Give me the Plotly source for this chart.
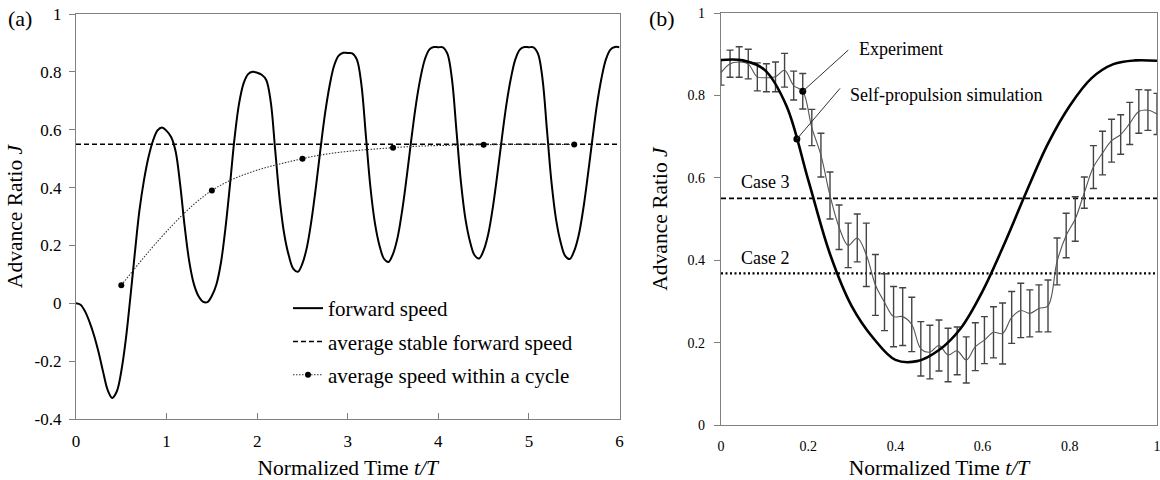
import plotly.graph_objects as go

# ---------------- Panel (a) data ----------------
fs_t = [0.00, 0.05, 0.10, 0.15, 0.20, 0.25, 0.30, 0.35, 0.40, 0.45,
        0.50, 0.55, 0.60, 0.65, 0.70, 0.75, 0.80, 0.85, 0.90, 0.95,
        1.00, 1.05, 1.10, 1.15, 1.20, 1.25, 1.30, 1.35, 1.40, 1.45,
        1.50, 1.55, 1.60, 1.65, 1.70, 1.75, 1.80, 1.85, 1.90, 1.95,
        2.00, 2.05, 2.10, 2.15, 2.20, 2.25, 2.30, 2.35, 2.40, 2.45,
        2.50, 2.55, 2.60, 2.65, 2.70, 2.75, 2.80, 2.85, 2.90, 2.95,
        3.00, 3.05, 3.10, 3.15, 3.20, 3.25, 3.30, 3.35, 3.40, 3.45,
        3.50, 3.55, 3.60, 3.65, 3.70, 3.75, 3.80, 3.85, 3.90, 3.95,
        4.00, 4.05, 4.10, 4.15, 4.20, 4.25, 4.30, 4.35, 4.40, 4.45,
        4.50, 4.55, 4.60, 4.65, 4.70, 4.75, 4.80, 4.85, 4.90, 4.95,
        5.00, 5.05, 5.10, 5.15, 5.20, 5.25, 5.30, 5.35, 5.40, 5.45,
        5.50, 5.55, 5.60, 5.65, 5.70, 5.75, 5.80, 5.85, 5.90, 5.95,
        6.00]
fs_J = [0.000, -0.005, -0.028, -0.065, -0.112, -0.170, -0.238, -0.300, -0.327, -0.305,
        -0.235, -0.125, 0.020, 0.175, 0.320, 0.425, 0.505, 0.562, 0.598, 0.608,
        0.596, 0.575, 0.525, 0.410, 0.265, 0.145, 0.068, 0.026, 0.006, 0.004,
        0.026, 0.065, 0.140, 0.260, 0.410, 0.570, 0.690, 0.760, 0.792, 0.800,
        0.797, 0.790, 0.772, 0.696, 0.526, 0.356, 0.237, 0.164, 0.119, 0.109,
        0.138, 0.195, 0.288, 0.406, 0.536, 0.657, 0.753, 0.822, 0.856, 0.866,
        0.865, 0.864, 0.843, 0.758, 0.580, 0.402, 0.277, 0.200, 0.154, 0.143,
        0.171, 0.227, 0.319, 0.435, 0.562, 0.681, 0.775, 0.842, 0.877, 0.886,
        0.885, 0.885, 0.863, 0.776, 0.597, 0.417, 0.290, 0.213, 0.166, 0.155,
        0.183, 0.238, 0.328, 0.442, 0.567, 0.684, 0.776, 0.843, 0.877, 0.886,
        0.885, 0.885, 0.863, 0.776, 0.596, 0.416, 0.289, 0.211, 0.164, 0.153,
        0.181, 0.236, 0.326, 0.441, 0.566, 0.684, 0.776, 0.843, 0.877, 0.886,
        0.885]

stable_t = [0, 6]
stable_J = [0.55, 0.55]

cycle_t = [0.5, 1.5, 2.5, 3.5, 4.5, 5.5]
cycle_J = [0.062, 0.390, 0.500, 0.538, 0.548, 0.549]

a_xticks = [0, 1, 2, 3, 4, 5, 6]
a_xtext = ["0", "1", "2", "3", "4", "5", "6"]
a_yticks = [-0.4, -0.2, 0, 0.2, 0.4, 0.6, 0.8, 1.0]
a_ytext = ["-0.4", "-0.2", "0", "0.2", "0.4", "0.6", "0.8", "1"]

# ---------------- Panel (b) data ----------------
sim_t = [0.00, 0.05, 0.10, 0.15, 0.20, 0.25, 0.30, 0.35, 0.40, 0.45,
         0.50, 0.55, 0.60, 0.65, 0.70, 0.75, 0.80, 0.85, 0.90, 0.95, 1.00]
sim_J = [0.886, 0.885, 0.862, 0.775, 0.595, 0.415, 0.288, 0.210, 0.158, 0.155,
         0.182, 0.235, 0.325, 0.440, 0.565, 0.683, 0.775, 0.842, 0.876, 0.885, 0.884]

exp_t = [0.0, 0.0208, 0.0417, 0.0625, 0.0833, 0.1042, 0.125, 0.1458, 0.1667, 0.1875,
         0.2083, 0.2292, 0.25, 0.2708, 0.2917, 0.3125, 0.3333, 0.3542, 0.375, 0.3958,
         0.4167, 0.4375, 0.4583, 0.4792, 0.5, 0.5208, 0.5417, 0.5625, 0.5833, 0.6042,
         0.625, 0.6458, 0.6667, 0.6875, 0.7083, 0.7292, 0.75, 0.7708, 0.7917, 0.8125,
         0.8333, 0.8542, 0.875, 0.8958, 0.9167, 0.9375, 0.9583, 0.9792, 1.0]
exp_J = [0.855, 0.877, 0.881, 0.876, 0.845, 0.843, 0.845, 0.861, 0.824, 0.810,
         0.722, 0.655, 0.557, 0.480, 0.436, 0.454, 0.413, 0.340, 0.298, 0.263,
         0.263, 0.244, 0.185, 0.177, 0.193, 0.170, 0.180, 0.158, 0.190, 0.206,
         0.225, 0.222, 0.261, 0.278, 0.271, 0.283, 0.289, 0.397, 0.460, 0.500,
         0.564, 0.626, 0.660, 0.690, 0.705, 0.732, 0.761, 0.764, 0.755]
exp_err = [0.030, 0.033, 0.037, 0.036, 0.034, 0.034, 0.036, 0.041, 0.035, 0.043,
           0.044, 0.053, 0.057, 0.054, 0.054, 0.058, 0.077, 0.074, 0.069, 0.073,
           0.070, 0.066, 0.066, 0.065, 0.062, 0.065, 0.058, 0.056, 0.058, 0.057,
           0.062, 0.074, 0.063, 0.066, 0.057, 0.057, 0.063, 0.057, 0.054, 0.054,
           0.038, 0.052, 0.053, 0.052, 0.048, 0.051, 0.053, 0.049, 0.050]

case3_J = [0.55, 0.55]
case2_J = [0.368, 0.368]
case_t = [0, 1]

exp_mark = ([0.1875], [0.810])
sim_mark = ([0.174], [0.694])

b_ticks = [0, 0.2, 0.4, 0.6, 0.8, 1.0]
b_text = ["0", "0.2", "0.4", "0.6", "0.8", "1"]

FONT = "Liberation Serif, Times New Roman, serif"
AXC = "#808080"

fig = go.Figure()

# ---- panel (a) traces ----
fig.add_trace(go.Scatter(x=fs_t, y=fs_J, mode="lines", name="forward speed",
                         legendgroup="g1",
                         line=dict(color="black", width=2, shape="spline"),
                         xaxis="x", yaxis="y"))
fig.add_trace(go.Scatter(x=stable_t, y=stable_J, mode="lines",
                         name="average stable forward speed", legendgroup="g2",
                         line=dict(color="black", width=1.6, dash="5px,3px"),
                         xaxis="x", yaxis="y"))
fig.add_trace(go.Scatter(x=cycle_t, y=cycle_J, mode="lines+markers",
                         name="average speed within a cycle", legendgroup="g3",
                         line=dict(color="#333333", width=1.1, dash="1.5px,1.5px",
                                   shape="spline"),
                         marker=dict(color="black", size=6),
                         xaxis="x", yaxis="y"))

# ---- panel (b) traces ----
fig.add_trace(go.Scatter(x=case_t, y=case3_J, mode="lines", showlegend=False,
                         line=dict(color="black", width=1.8, dash="5px,3px"),
                         xaxis="x2", yaxis="y2"))
fig.add_trace(go.Scatter(x=case_t, y=case2_J, mode="lines", showlegend=False,
                         line=dict(color="black", width=2.2, dash="2px,2.5px"),
                         xaxis="x2", yaxis="y2"))
fig.add_trace(go.Scatter(x=exp_t, y=exp_J, mode="lines", showlegend=False,
                         line=dict(color="#555555", width=1.1, shape="spline"),
                         error_y=dict(type="data", array=exp_err, color="#444444",
                                      thickness=1.4, width=3.5),
                         xaxis="x2", yaxis="y2"))
fig.add_trace(go.Scatter(x=sim_t, y=sim_J, mode="lines", showlegend=False,
                         line=dict(color="black", width=2.6, shape="spline"),
                         xaxis="x2", yaxis="y2"))
fig.add_trace(go.Scatter(x=exp_mark[0] + sim_mark[0], y=exp_mark[1] + sim_mark[1],
                         mode="markers", showlegend=False,
                         marker=dict(color="black", size=7),
                         xaxis="x2", yaxis="y2"))

W, H = 1160, 480
axis_common = dict(showgrid=False, zeroline=False, showline=True, linecolor=AXC,
                   linewidth=1.2, mirror=True, tickcolor=AXC, tickwidth=1,
                   color="black", automargin=False, ticklabeloverflow="allow")

fig.update_layout(
    width=W, height=H, autosize=False,
    margin=dict(l=0, r=0, t=0, b=0, pad=0, autoexpand=False),
    paper_bgcolor="white", plot_bgcolor="white",
    font=dict(family=FONT, color="black", size=17),
    showlegend=True,
    legend=dict(x=288 / W, y=1 - 288 / H, xanchor="left", yanchor="top",
                bgcolor="rgba(0,0,0,0)", font=dict(family=FONT, size=21),
                tracegroupgap=3, traceorder="grouped", itemwidth=30),
    xaxis=dict(domain=[76 / W, 619.5 / W], range=[0, 6], anchor="y",
               tickvals=a_xticks, ticktext=a_xtext, ticks="inside", ticklen=6,
               tickfont=dict(size=17), ticklabelstandoff=6,
               title=dict(text="Normalized Time <i>t/T</i>", font=dict(size=21.5),
                          standoff=12),
               **axis_common),
    yaxis=dict(domain=[1 - 419 / H, 1 - 14 / H], range=[-0.4, 1], anchor="x",
               tickvals=a_yticks, ticktext=a_ytext, ticks="outside", ticklen=6,
               tickfont=dict(size=17), ticklabelstandoff=4,
               title=dict(text="Advance Ratio <i>J</i>", font=dict(size=21.5),
                          standoff=6),
               **axis_common),
    xaxis2=dict(domain=[721 / W, 1157 / W], range=[0, 1], anchor="y2",
                tickvals=b_ticks, ticktext=b_text, ticks="",
                tickfont=dict(size=14), ticklabelstandoff=8,
                title=dict(text="Normalized Time <i>t/T</i>", font=dict(size=21.5),
                           standoff=10),
                **axis_common),
    yaxis2=dict(domain=[1 - 425 / H, 1 - 13 / H], range=[0, 1], anchor="x2",
                tickvals=b_ticks, ticktext=b_text, ticks="outside", ticklen=6,
                tickfont=dict(size=14), ticklabelstandoff=6,
                title=dict(text="Advance Ratio <i>J</i>", font=dict(size=21.5),
                           standoff=14),
                **axis_common),
)

ann_font = dict(family=FONT, size=18, color="black")
fig.add_annotation(text="(a)", xref="paper", yref="paper", x=20 / W, y=1 - 19 / H,
                   xanchor="center", yanchor="middle",
                   showarrow=False, font=dict(family=FONT, size=22))
fig.add_annotation(text="(b)", xref="paper", yref="paper", x=662 / W, y=1 - 19 / H,
                   xanchor="center", yanchor="middle",
                   showarrow=False, font=dict(family=FONT, size=22))
fig.add_annotation(text="Case 3", xref="x2", yref="y2", x=0.041, y=0.59,
                   xanchor="left", yanchor="middle", showarrow=False, font=ann_font)
fig.add_annotation(text="Case 2", xref="x2", yref="y2", x=0.041, y=0.405,
                   xanchor="left", yanchor="middle", showarrow=False, font=ann_font)
fig.add_annotation(text="Experiment", xref="x2", yref="y2", x=0.312, y=0.913,
                   xanchor="left", yanchor="middle", showarrow=False, font=ann_font)
fig.add_annotation(text="Self-propulsion simulation", xref="x2", yref="y2",
                   x=0.291, y=0.801, xanchor="left", yanchor="middle",
                   showarrow=False, font=ann_font)

fig.add_shape(type="line", xref="x2", yref="y2", x0=exp_mark[0][0], y0=exp_mark[1][0],
              x1=0.292, y1=0.91, line=dict(color="#333333", width=1))
fig.add_shape(type="line", xref="x2", yref="y2", x0=sim_mark[0][0], y0=sim_mark[1][0],
              x1=0.273, y1=0.817, line=dict(color="#333333", width=1))

fig.write_html("out.html")
